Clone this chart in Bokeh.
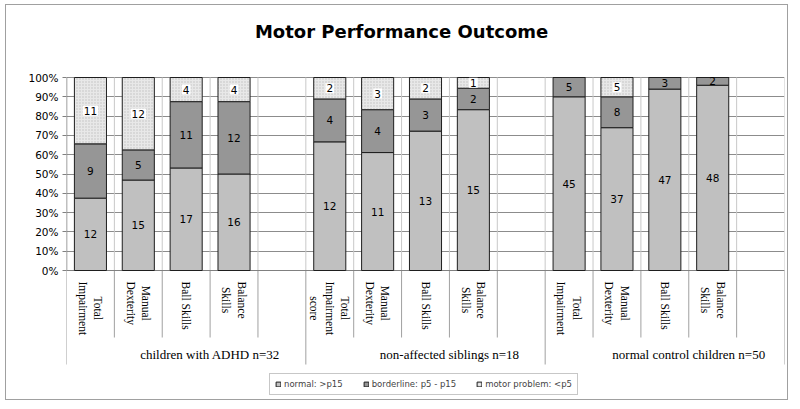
import numpy as np
from bokeh.plotting import figure
from bokeh.models import (FactorRange, Range1d, FixedTicker, NumeralTickFormatter,
                          ColumnDataSource, Legend, LegendItem, Label)
from bokeh.core.properties import value
from bokeh.embed import file_html
from bokeh.resources import INLINE

# ---------------- data ----------------
chart_title = "Motor Performance Outcome"
groups = ["children with ADHD n=32", "non-affected siblings n=18", "normal control children n=50"]
adhd_tests = ["Total\nImpairment", "Manual\nDexterity", "Ball Skills", "Balance\nSkills"]
sibling_tests = ["Total\nImpairment\nscore", "Manual\nDexterity", "Ball Skills", "Balance\nSkills"]
control_tests = ["Total\nImpairment", "Manual\nDexterity", "Ball Skills", "Balance\nSkills"]
series = ["normal: >p15", "borderline: p5 - p15", "motor problem: <p5"]
normal = [12, 15, 17, 16, 12, 11, 13, 15, 45, 37, 47, 48]
borderline = [9, 5, 11, 12, 4, 4, 3, 2, 5, 8, 3, 2]
problem = [11, 12, 4, 4, 2, 3, 2, 1, 0, 5, 0, 0]
y_ticks = [0, 0.1, 0.2, 0.3, 0.4, 0.5, 0.6, 0.7, 0.8, 0.9, 1.0]

# ---------------- layout constants (page pixels) ----------------
W, H = 783, 396
ORIGIN_X, ORIGIN_Y = 7, 6          # where the canvas lands on the page
PLOT_L, PLOT_R = 67, 785
Y100, Y0 = 78, 271
PPU = Y0 - Y100
FRAME_BOTTOM = ORIGIN_Y + H


def py(pix):
    """page-pixel y -> data y"""
    return (Y0 - pix) / PPU


# ---------------- factors ----------------
tests_by_group = [adhd_tests, sibling_tests, control_tests]
factors, tick_labels, group_start = [], [], []
for g, tests in enumerate(tests_by_group):
    for i, t in enumerate(tests):
        factors.append(f"{g}|{t}")
        tick_labels.append(t)
        group_start.append(i == 0)
    factors.append(f"{g}|blank")
    tick_labels.append("")
    group_start.append(False)
bar_factors = [f for f in factors if not f.endswith("blank")]

n = np.array(normal, float)
b = np.array(borderline, float)
m = np.array(problem, float)
tot = n + b + m
f_n = n / tot
f_b = b / tot
f_m = m / tot

p = figure(width=W, height=H, output_backend="svg", toolbar_location=None,
           x_range=FactorRange(*factors, range_padding=0),
           y_range=Range1d(py(FRAME_BOTTOM), py(ORIGIN_Y)),
           min_border_left=PLOT_L - ORIGIN_X, min_border_right=ORIGIN_X + W - PLOT_R,
           min_border_top=0, min_border_bottom=0)
p.styles = {"border": "1px solid #a0a0a0", "margin-left": "5px", "margin-top": "4px"}
p.outline_line_color = None
p.xaxis.visible = False
p.xgrid.visible = False
p.ygrid.ticker = FixedTicker(ticks=y_ticks)
p.ygrid.grid_line_color = "#8c8c8c"
p.yaxis.ticker = FixedTicker(ticks=y_ticks)
p.yaxis.formatter = NumeralTickFormatter(format="0%")
p.yaxis.axis_line_color = None
p.yaxis.major_tick_out = 4
p.yaxis.major_tick_in = 0
p.yaxis.major_tick_line_color = "#808080"
p.yaxis.minor_tick_line_color = None
p.yaxis.major_label_standoff = 4
p.yaxis.major_label_text_font = "DejaVu Sans"
p.yaxis.major_label_text_font_size = "10.5px"
p.yaxis.major_label_text_color = "#000000"

# category boundaries
bx = [(f, -0.5) for f in factors] + [(factors[-1], 0.5)]
longsep = [gs for gs in group_start] + [True]
longsep[0] = True
bounds = ColumnDataSource(dict(bx=bx, ybot=[py(365) if l else py(338) for l in longsep]))
grid_src = ColumnDataSource(dict(bx=bx[1:]))
p.segment(x0="bx", x1="bx", y0=0, y1=1, source=grid_src, line_color="#c8c8c8", line_width=1)
p.segment(x0="bx", x1="bx", y0=0, y1="ybot", source=bounds, line_color="#a0a0a0", line_width=1)
# axis lines
p.segment(x0=[(factors[0], -0.5)], x1=[(factors[-1], 0.5)], y0=[0], y1=[0],
          line_color="#808080", line_width=1)
p.segment(x0=[(factors[0], -0.5)], x1=[(factors[0], -0.5)], y0=[0], y1=[1],
          line_color="#808080", line_width=1.5)

src = ColumnDataSource(dict(x=bar_factors, n=f_n, b=f_b, m=f_m,
                            nb=f_n + f_b, one=f_n + f_b + f_m))
bar_w = 0.67
r1 = p.vbar(x="x", bottom=0, top="n", width=bar_w, source=src,
            fill_color="#c0c0c0", line_color="#1e1e1e", line_width=1)
r2 = p.vbar(x="x", bottom="n", top="nb", width=bar_w, source=src,
            fill_color="#969696", line_color="#1e1e1e", line_width=1)
r3 = p.vbar(x="x", bottom="nb", top="one", width=bar_w, source=src,
            fill_color="#e8e8e8", hatch_pattern="dot", hatch_color="#c0c0c0",
            hatch_scale=3, line_color="#1e1e1e", line_width=1)

lab_font = value("DejaVu Sans")


def lbl(vals, lo, hi, bg):
    keep = [i for i, v in enumerate(vals) if v > 0]
    s = ColumnDataSource(dict(
        x=[bar_factors[i] for i in keep],
        y=[(lo[i] + hi[i]) / 2 for i in keep],
        t=[str(vals[i]) for i in keep]))
    kw = {}
    if bg:
        kw = dict(background_fill_color="white", padding=1)
    p.text(x="x", y="y", text="t", source=s, text_align="center", text_baseline="middle",
           text_font=lab_font, text_font_size="10.5px", text_color="black", **kw)


zeros = np.zeros(len(normal))
lbl(normal, zeros, f_n, False)
lbl(borderline, f_n, f_n + f_b, False)
lbl(problem, f_n + f_b, f_n + f_b + f_m, True)

# category labels (rotated)
cat_src = ColumnDataSource(dict(x=[f for f, t in zip(factors, tick_labels) if t],
                                t=[t for t in tick_labels if t]))
p.text(x="x", y=py(282), text="t", source=cat_src, angle=-np.pi / 2,
       anchor="center_left", text_align="center",
       text_font=value("Liberation Serif"), text_font_size="11.5px",
       text_line_height=1.3, text_color="black")

# group labels
grp_x = [f"{g}|{tests_by_group[g][2]}" for g in range(3)]
grp_src = ColumnDataSource(dict(x=[(f, 0.5) for f in grp_x], t=groups))
p.text(x="x", y=py(355), text="t", source=grp_src, text_align="center",
       text_baseline="middle", text_font=value("Liberation Serif"),
       text_font_size="13px", text_color="black")

# title
p.add_layout(Label(x=7.0, y=py(32), text=chart_title, text_align="center",
                   text_baseline="middle", text_font="DejaVu Sans", text_color="black",
                   text_font_style="bold", text_font_size="18px"))

legend = Legend(items=[LegendItem(label=series[0], renderers=[r1]),
                       LegendItem(label=series[1], renderers=[r2]),
                       LegendItem(label=series[2], renderers=[r3])],
                orientation="horizontal", location=(270 - PLOT_L, FRAME_BOTTOM - 396),
                glyph_width=6, glyph_height=6, label_standoff=3, spacing=20,
                padding=5, margin=0, label_height=8,
                label_text_font="DejaVu Sans", label_text_font_size="8.5px",
                border_line_color="#909090", border_line_width=1,
                background_fill_color="white", background_fill_alpha=1)
p.add_layout(legend)

open("out.html", "w").write(file_html(p, INLINE))
